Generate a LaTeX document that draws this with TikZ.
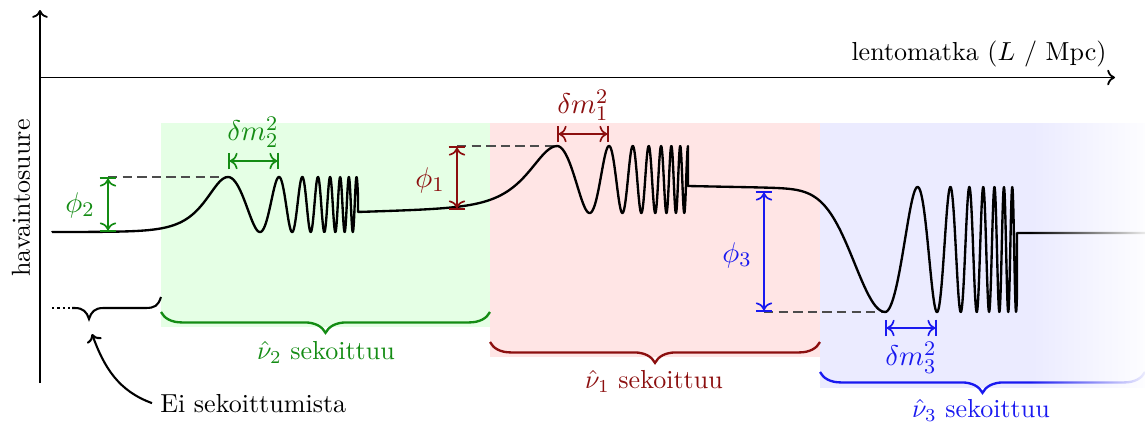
\documentclass[tikz,border=0pt]{standalone}
\usetikzlibrary{decorations.pathreplacing,fadings,arrows.meta}
\definecolor{cgreen}{RGB}{20,140,20}
\definecolor{cred}{RGB}{140,15,15}
\definecolor{cblue}{RGB}{25,25,240}
\tikzfading[name=fadeR, left color=transparent!100, middle color=transparent!75, right color=transparent!8]
\begin{document}
\begin{tikzpicture}[x=0.384pt,y=-0.384pt,
  curve/.style={line width=0.9pt, line join=round},
  axis/.style={line width=0.7pt,-{To[length=3pt,width=6pt]}},
  dim/.style={line width=0.65pt,{Bar[width=6.5pt]To[]}-{To[]Bar[width=6.5pt]}},
  guide/.style={black!70, line width=0.5pt, dash pattern=on 3.6pt off 2pt},
  brc/.style={decorate, decoration={brace, mirror, amplitude=8pt}, line width=0.9pt},
  mlab/.style={font=\fontsize{11}{13}\selectfont, inner sep=1pt},
  declare function={gs(\t,\s)=exp(-(\t/\s)*(\t/\s)); sh(\t,\s)=1/cosh(\t/\s);
    ch(\t,\s)=cos(360*(0.668*(\t/\s)+0.332*(\t/\s)*(\t/\s)*(\t/\s)));}
]
\useasboundingbox (0,0) rectangle (1145,427);

% backgrounds
\fill[green!10] (161,123) rectangle (490,327);
\fill[red!10] (490,123) rectangle (820,357);
\fill[blue!8] (820,123) rectangle (1145,388);

% axes
\coordinate (O) at (40,383);
\coordinate (Ytop) at (40,10);
\coordinate (Xl) at (40,77.5);
\coordinate (Xr) at (1115,77.5);
\draw[axis] (O) -- (Ytop);
\draw[axis] (Xl) -- (Xr);
\node[anchor=base east, inner sep=0] (xl) at (1107,60) {lentomatka ($L$ / Mpc)};
\node[rotate=90] (yl) at (21,198) {havaintosuure};

% guide lines
\coordinate (p2a) at (108,177); \coordinate (p2b) at (108,232); \coordinate (pk2) at (228,177);
\coordinate (p1a) at (457,146); \coordinate (p1b) at (457,210); \coordinate (pk1) at (557,146);
\coordinate (p3a) at (764,191); \coordinate (p3b) at (764,312); \coordinate (pk3) at (884,312);
\draw[guide] (p2a) -- (pk2);
\draw[guide] (p1a) -- (pk1);
\draw[guide] (p3b) -- (pk3);

% curve
\draw[curve] (52,232)
 -- plot[domain=52:228, samples=100] (\x,{232-55*sh(\x-228,19.6)})
 -- plot[domain=228:358, samples=500] (\x,{204.5-27.5*ch(\x-228,51)})
 -- (358,212)
 -- plot[domain=358:557, samples=120] (\x,{212-0.03*(\x-358)-60*sh(\x-557,25)})
 -- plot[domain=557:688, samples=500] (\x,{179.5-33.5*ch(\x-557,52)})
 -- (688,186)
 -- plot[domain=688:885, samples=120] (\x,{186+0.02*(\x-688)+122*gs(\x-885,43)})
 -- plot[domain=885:1017, samples=500] (\x,{249.5+62.5*ch(\x-885,52)})
 -- (1017,233) -- (1145,233);

% dimension arrows
\draw[dim, cgreen] (p2a) -- (p2b);
\draw[dim, cred] (p1a) -- (p1b);
\draw[dim, cblue] (p3a) -- (p3b);
\coordinate (d2a) at (228,161); \coordinate (d2b) at (279,161);
\coordinate (d1a) at (557,134); \coordinate (d1b) at (609,134);
\coordinate (d3a) at (885,328); \coordinate (d3b) at (937,328);
\draw[dim, cgreen] (d2a) -- (d2b);
\draw[dim, cred] (d1a) -- (d1b);
\draw[dim, cblue] (d3a) -- (d3b);

% braces
\coordinate (b2a) at (161,312); \coordinate (b2b) at (490,312);
\coordinate (b1a) at (490,342); \coordinate (b1b) at (820,342);
\coordinate (b3a) at (820,372); \coordinate (b3b) at (1145,372);
\draw[brc, cgreen] (b2a) -- (b2b);
\draw[brc, cred] (b1a) -- (b1b);
\draw[brc, cblue] (b3a) -- (b3b);

% small black brace
\coordinate (tipc) at (89,319);
\draw[line width=0.8pt] (161,297) .. controls (158,306) and (155,308) .. (145,308) -- (103,308)
  .. controls (95,308) and (91,312) .. (tipc) .. controls (87,312) and (83,308) .. (75,308) -- (72,308);
\draw[line width=0.8pt, dash pattern=on 0.8pt off 1.3pt] (52,308) -- (72,308);

% fade on the right
\fill[white, path fading=fadeR] (1030,115) rectangle (1145,400);

% labels
\node[mlab, text=cgreen] (phi2) at (80,205) {$\phi_2$};
\node[mlab, text=cgreen, anchor=south] (dm2) at (253,151) {$\delta m_2^2$};
\node[mlab, text=cred] (phi1) at (430,180) {$\phi_1$};
\node[mlab, text=cred, anchor=south] (dm1) at (583,124) {$\delta m_1^2$};
\node[mlab, text=cblue] (phi3) at (737,255) {$\phi_3$};
\node[mlab, text=cblue, anchor=north] (dm3) at (911,339) {$\delta m_3^2$};
\node[text=cgreen] (l2) at (326,352) {$\hat{\nu}_2$ sekoittuu};
\node[text=cred] (l1) at (654,381) {$\hat{\nu}_1$ sekoittuu};
\node[text=cblue] (l3) at (981,410) {$\hat{\nu}_3$ sekoittuu};

\node[anchor=base west, inner sep=3pt] (ei) at (152,412) {Ei sekoittumista};
\coordinate (arrtip) at (92,334);
\draw[line width=0.8pt, -{To[length=3pt,width=6pt]}] (ei.west) to[out=160, in=-70] (arrtip);
\end{tikzpicture}
\end{document}
